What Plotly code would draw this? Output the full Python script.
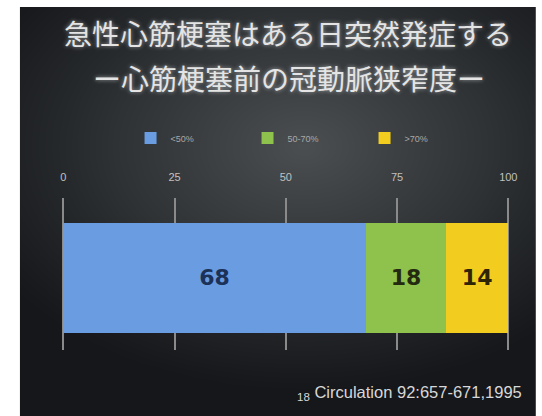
import numpy as np
import plotly.graph_objects as go

# ---- data ----
categories = ["<50%", "50-70%", ">70%"]
values = [68, 18, 14]
colors = ["#6a9ce2", "#8ec24c", "#f2cc1e"]
label_colors = ["#1c3157", "#232a10", "#2e2406"]
tick_vals = [0, 25, 50, 75, 100]
tick_text = ["0", "25", "50", "75", "100"]
title1 = "急性心筋梗塞はある日突然発症する"
title2 = "ー心筋梗塞前の冠動脈狭窄度ー"
source = "Circulation 92:657-671,1995"

W, H = 542, 416

fig = go.Figure()

# ---- background gradient (style only) on first subplot ----
gx = np.linspace(0, 1, 60)
gy = np.linspace(0, 1, 60)
X, Y = np.meshgrid(gx, gy)
d = np.sqrt(((X - 0.55) / 0.70) ** 2 + ((Y - 0.66) / 0.60) ** 2)
Z = np.clip(1 - d, 0, 1) ** 1.1
fig.add_trace(go.Heatmap(
    x=gx, y=gy, z=Z, xaxis="x", yaxis="y",
    colorscale=[[0, "#16171a"], [0.45, "#2e3235"], [1, "#4a4e50"]],
    zsmooth="best", showscale=False, hoverinfo="skip",
))

# ---- stacked bar ----
for cat, v, c, lc in zip(categories, values, colors, label_colors):
    fig.add_trace(go.Bar(
        x=[v], y=[0], orientation="h", name=cat, xaxis="x2", yaxis="y2",
        marker=dict(color=c, line=dict(width=0)),
        width=1,
        text=[str(v)], textposition="inside", insidetextanchor="middle",
        textangle=0,
        textfont=dict(family="DejaVu Sans", size=22, color=lc, weight="bold"),
        hoverinfo="skip",
    ))

left_px, top_px = 20, 7
bg_dom_x = [left_px / W, 1]
bg_dom_y = [0, 1 - top_px / H]

# bar plot area in pixels (0 -> 64px, 100 -> 514px, padded so edge gridlines show)
px0, px1 = 61.3, 516.7
py_top, py_bot = 198, 350

fig.update_layout(
    width=W, height=H,
    margin=dict(l=0, r=0, t=0, b=0),
    paper_bgcolor="white",
    plot_bgcolor="rgba(0,0,0,0)",
    barmode="stack",
    showlegend=True,
    legend=dict(
        orientation="h", x=132 / W, xanchor="left", y=1 - 138 / H, yanchor="middle",
        traceorder="normal",
        font=dict(family="Liberation Sans", size=9, color="#a8a8a8"),
        bgcolor="rgba(0,0,0,0)", entrywidth=72, entrywidthmode="pixels",
        itemclick=False, itemdoubleclick=False,
    ),
    xaxis=dict(domain=bg_dom_x, range=[0, 1], visible=False, fixedrange=True),
    yaxis=dict(domain=bg_dom_y, range=[0, 1], visible=False, fixedrange=True),
    xaxis2=dict(
        domain=[px0 / W, px1 / W], range=[-0.6, 100.6], side="top", anchor="y2",
        tickvals=tick_vals, ticktext=tick_text,
        tickfont=dict(family="Liberation Sans", size=11, color="#c0c0c0"),
        ticks="outside", ticklen=12, tickcolor="rgba(0,0,0,0)",
        showgrid=True, gridcolor="#8a8a8a", gridwidth=1.5,
        zeroline=False, showline=False, fixedrange=True,
    ),
    yaxis2=dict(
        domain=[1 - py_bot / H, 1 - py_top / H], range=[-0.655, 0.727],
        anchor="x2", visible=False, fixedrange=True,
    ),
    annotations=[
        dict(text=title1, x=291 / W, y=1 - 33 / H, xref="paper", yref="paper",
             xanchor="center", yanchor="middle", showarrow=False,
             font=dict(family="Noto Sans CJK JP", size=28, color="#e4e4e4",
                       shadow="0px 0px 4px rgba(255,255,255,0.55)")),
        dict(text=title2, x=292 / W, y=1 - 78 / H, xref="paper", yref="paper",
             xanchor="center", yanchor="middle", showarrow=False,
             font=dict(family="Noto Sans CJK JP", size=28, color="#e4e4e4",
                       shadow="0px 0px 4px rgba(255,255,255,0.55)")),
        dict(text="<sub>18</sub> " + source, x=298 / W, y=1 - 393 / H,
             xref="paper", yref="paper", xanchor="left", yanchor="middle",
             showarrow=False,
             font=dict(family="Liberation Sans", size=16.5, color="#d8d8d8")),
    ],
)

fig.write_html("out.html")
